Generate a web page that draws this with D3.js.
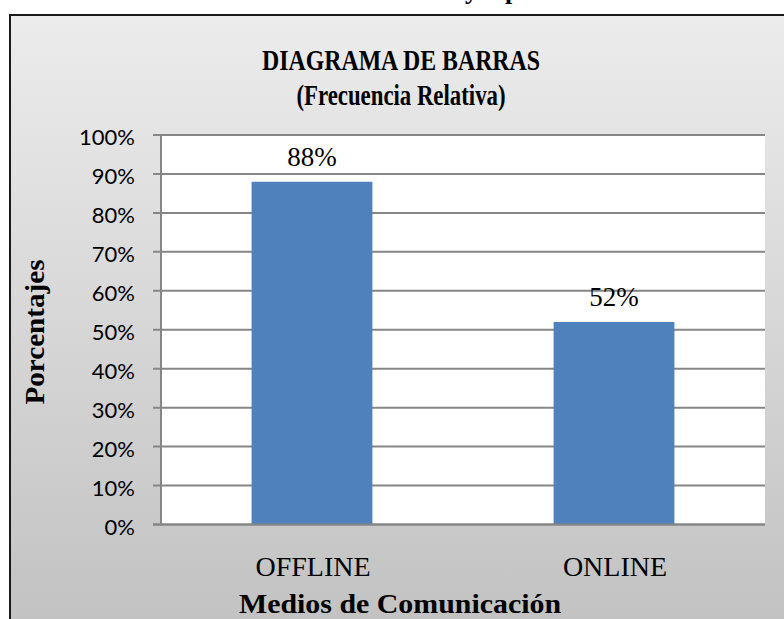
<!DOCTYPE html>
<html><head><meta charset="utf-8">
<script src="https://cdn.jsdelivr.net/npm/d3@7"></script>
<style>html,body{margin:0;padding:0;background:#fff;overflow:hidden}</style>
</head><body><svg id="c" width="784" height="619"></svg>
<script>
const categories = ["OFFLINE", "ONLINE"];
const values = [0.88, 0.52];
const valueLabels = ["88%", "52%"];
const yTicks = [0, 0.1, 0.2, 0.3, 0.4, 0.5, 0.6, 0.7, 0.8, 0.9, 1.0];
const yTickLabels = ["0%", "10%", "20%", "30%", "40%", "50%", "60%", "70%", "80%", "90%", "100%"];
const titleLines = ["DIAGRAMA DE BARRAS", "(Frecuencia Relativa)"];
const xTitle = "Medios de Comunicación";
const yTitle = "Porcentajes";
const topCutText = ["y", "p"];

const svg = d3.select("#c");
const serif = "'Liberation Serif','Times New Roman',serif";
const sans = "Lato,'Open Sans',sans-serif";

// gradient
const defs = svg.append("defs");
const g = defs.append("linearGradient").attr("id", "bg").attr("x1", 0).attr("y1", 0).attr("x2", 0).attr("y2", 1);
g.append("stop").attr("offset", "0%").attr("stop-color", "#ececec");
g.append("stop").attr("offset", "100%").attr("stop-color", "#c1c1c1");

// cut-off text at top (only the descenders show, as in the reference)
svg.append("text").attr("x", 465).attr("y", -1).attr("font-family", serif).attr("font-weight", "bold")
  .attr("font-size", 26).attr("fill", "#000").text(topCutText[0]);
svg.append("text").attr("x", 505).attr("y", -1).attr("font-family", serif).attr("font-weight", "bold")
  .attr("font-size", 26).attr("fill", "#000").text(topCutText[1]);

// frame
svg.append("rect").attr("x", 10).attr("y", 15).attr("width", 800).attr("height", 625)
  .attr("fill", "url(#bg)").attr("stroke", "#1a1a1a").attr("stroke-width", 2);

const plot = {left: 161, right: 765, top: 135, bottom: 524.5};
const y = d3.scaleLinear().domain([0, 1]).range([plot.bottom, plot.top]);
const x = d3.scaleBand().domain(categories).range([plot.left, plot.right]).paddingInner(0.6).paddingOuter(0.3);

svg.append("rect").attr("x", plot.left).attr("y", plot.top).attr("width", plot.right - plot.left)
  .attr("height", plot.bottom - plot.top).attr("fill", "#fff");

// gridlines + ticks
svg.append("g").selectAll("line").data(yTicks).join("line")
  .attr("x1", plot.left - 8).attr("x2", plot.right)
  .attr("y1", d => y(d)).attr("y2", d => y(d))
  .attr("stroke", "#868686").attr("stroke-width", 2);

// bars
svg.append("g").selectAll("rect").data(values).join("rect")
  .attr("x", (d, i) => x(categories[i])).attr("width", x.bandwidth())
  .attr("y", d => y(d)).attr("height", d => y(0) - y(d))
  .attr("fill", "#4f81bd");

// baseline over bars
svg.append("line").attr("x1", plot.left - 8).attr("x2", plot.right).attr("y1", y(0)).attr("y2", y(0))
  .attr("stroke", "#868686").attr("stroke-width", 2);

// vertical axis
svg.append("line").attr("x1", plot.left).attr("x2", plot.left).attr("y1", plot.top).attr("y2", plot.bottom + 1)
  .attr("stroke", "#868686").attr("stroke-width", 2);

// y tick labels
svg.append("g").selectAll("text").data(yTicks).join("text")
  .attr("x", 135).attr("y", d => y(d) + 10)
  .attr("text-anchor", "end").attr("font-family", sans).attr("font-size", 22).attr("fill", "#000")
  .text((d, i) => yTickLabels[i]);

// value labels
svg.append("g").selectAll("text").data(values).join("text")
  .attr("x", (d, i) => x(categories[i]) + x.bandwidth() / 2).attr("y", d => y(d) - 16)
  .attr("text-anchor", "middle").attr("font-family", serif).attr("font-size", 27).attr("fill", "#000")
  .text((d, i) => valueLabels[i]);

// category labels
svg.append("g").selectAll("text").data(categories).join("text")
  .attr("x", d => x(d) + x.bandwidth() / 2 + 1).attr("y", 576)
  .attr("text-anchor", "middle").attr("font-family", serif).attr("font-size", 28).attr("fill", "#000")
  .text(d => d);

// titles
svg.append("text").attr("x", 401).attr("y", 70).attr("text-anchor", "middle")
  .attr("font-family", serif).attr("font-weight", "bold").attr("font-size", 29)
  .attr("textLength", 278).attr("lengthAdjust", "spacingAndGlyphs").text(titleLines[0]);
svg.append("text").attr("x", 401).attr("y", 105).attr("text-anchor", "middle")
  .attr("font-family", serif).attr("font-weight", "bold").attr("font-size", 29)
  .attr("textLength", 209).attr("lengthAdjust", "spacingAndGlyphs").text(titleLines[1]);

svg.append("text").attr("x", 400).attr("y", 613).attr("text-anchor", "middle")
  .attr("font-family", serif).attr("font-weight", "bold").attr("font-size", 28)
  .attr("textLength", 322).attr("lengthAdjust", "spacingAndGlyphs").text(xTitle);

svg.append("text").attr("transform", "translate(44,332) rotate(-90)").attr("text-anchor", "middle")
  .attr("font-family", serif).attr("font-weight", "bold").attr("font-size", 27)
  .attr("textLength", 145).attr("lengthAdjust", "spacingAndGlyphs").text(yTitle);
</script></body></html>
